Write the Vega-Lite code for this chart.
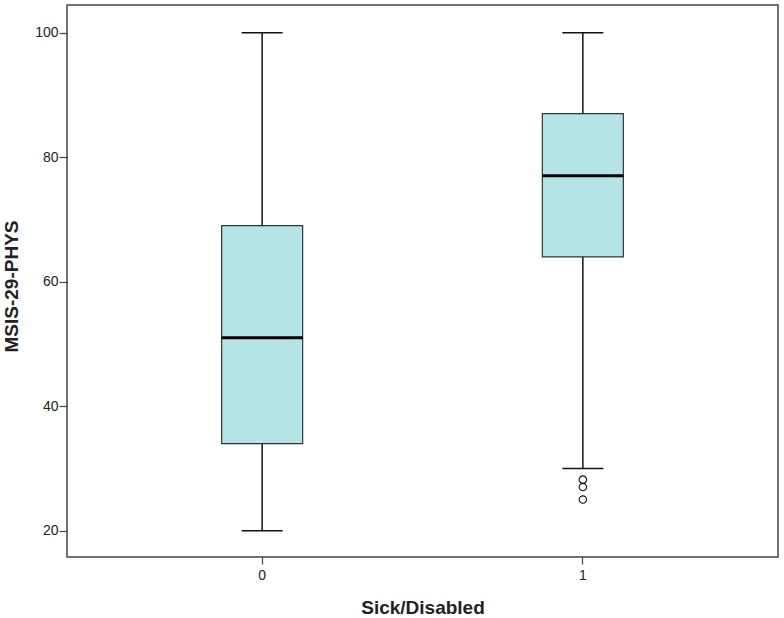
{
  "$schema": "https://vega.github.io/schema/vega-lite/v6.json",
  "width": 711,
  "height": 552,
  "autosize": {"type": "none"},
  "padding": {"left": 67, "top": 5, "right": 6, "bottom": 61},
  "background": "white",
  "config": {
    "view": {"stroke": "#444444", "strokeWidth": 1.5},
    "font": "Liberation Sans",
    "axis": {
      "grid": false,
      "domain": false,
      "tickColor": "#444444",
      "tickWidth": 1.2,
      "labelFont": "Liberation Sans",
      "labelFontSize": 14,
      "labelColor": "#222222",
      "titleFont": "Liberation Sans",
      "titleFontSize": 19,
      "titleFontWeight": "bold",
      "titleColor": "#222222"
    }
  },
  "datasets": {
    "stats": [
      {"group": "0", "lower": 20, "q1": 34, "median": 51, "q3": 69, "upper": 100},
      {"group": "1", "lower": 30, "q1": 64, "median": 77, "q3": 87, "upper": 100}
    ],
    "outliers": [
      {"group": "1", "value": 28.2},
      {"group": "1", "value": 27},
      {"group": "1", "value": 25}
    ]
  },
  "encoding": {
    "x": {
      "field": "group",
      "type": "nominal",
      "scale": {"domain": ["0", "1"], "paddingInner": 0.75, "paddingOuter": 0.4835},
      "axis": {"title": "Sick/Disabled", "labelAngle": 0, "tickSize": 7, "labelPadding": 4, "titleY": 50, "titleBaseline": "middle"}
    }
  },
  "layer": [
    {
      "data": {"name": "stats"},
      "mark": {"type": "rule", "color": "#111111", "strokeWidth": 1.5},
      "encoding": {
        "y": {
          "field": "lower",
          "type": "quantitative",
          "scale": {"domain": [15.77, 104.45], "nice": false, "zero": false},
          "axis": {"title": "MSIS-29-PHYS", "values": [20, 40, 60, 80, 100], "tickSize": 8, "labelPadding": 1, "titleX": -56, "titleY": 281, "titleBaseline": "middle"}
        },
        "y2": {"field": "upper"}
      }
    },
    {
      "data": {"name": "stats"},
      "mark": {"type": "bar", "size": 81, "fill": "#B4E4E6", "stroke": "#333333", "strokeWidth": 1.2},
      "encoding": {
        "y": {"field": "q1", "type": "quantitative"},
        "y2": {"field": "q3"}
      }
    },
    {
      "data": {"name": "stats"},
      "mark": {"type": "tick", "size": 81, "thickness": 3, "color": "#000000", "opacity": 1},
      "encoding": {"y": {"field": "median", "type": "quantitative"}}
    },
    {
      "data": {"name": "stats"},
      "mark": {"type": "tick", "size": 41, "thickness": 1.5, "color": "#111111", "opacity": 1},
      "encoding": {"y": {"field": "lower", "type": "quantitative"}}
    },
    {
      "data": {"name": "stats"},
      "mark": {"type": "tick", "size": 41, "thickness": 1.5, "color": "#111111", "opacity": 1},
      "encoding": {"y": {"field": "upper", "type": "quantitative"}}
    },
    {
      "data": {"name": "outliers"},
      "mark": {"type": "point", "shape": "circle", "filled": false, "size": 55, "stroke": "#111111", "strokeWidth": 1.1, "opacity": 1},
      "encoding": {"y": {"field": "value", "type": "quantitative"}}
    }
  ]
}
